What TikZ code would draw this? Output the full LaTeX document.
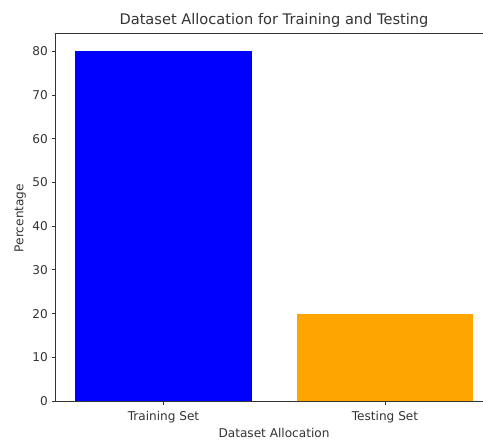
\documentclass[tikz,border=0pt]{standalone}
\usepackage{fontspec}
\setmainfont{DejaVu Sans}
\usetikzlibrary{positioning,calc}
\definecolor{barblue}{HTML}{0000FF}
\definecolor{barorange}{HTML}{FFA500}
\definecolor{axisgray}{HTML}{333333}

\begin{document}
\begin{tikzpicture}[
  x=1pt, y=1pt,
  spine/.style={draw=axisgray, line width=0.9pt},
  tick/.style={draw=axisgray, line width=0.9pt},
  ticklab/.style={font=\fontsize{12.1}{13}\selectfont, text=axisgray, inner sep=0pt},
  axlab/.style={font=\fontsize{12.1}{13}\selectfont, text=axisgray, inner sep=0pt},
  ttl/.style={font=\fontsize{14.6}{16}\selectfont, text=axisgray, inner sep=0pt}
]
\useasboundingbox (0,0) rectangle (483,440);

% bars
\fill[barblue] (75,39) rectangle (252,388.6);
\fill[barorange] (297,39) rectangle (473,126.4);

% axes (right spine lies outside the picture)
\coordinate (ll) at (55.5,39);
\coordinate (ul) at (55.5,407);
\draw[spine] (483,407) -- (ul) -- (ll) -- (483,39);

% y ticks
\foreach \v in {0,10,...,80}{
  \coordinate (yt\v) at (55.5,39+4.37*\v);
  \draw[tick] (yt\v) -- ++(-4,0);
  \node[ticklab, anchor=east] (ylab\v) at ($(yt\v)+(-7.5,0)$) {\v};
}

% x ticks
\coordinate (xt1) at (163.5,39);
\coordinate (xt2) at (385,39);
\draw[tick] (xt1) -- ++(0,-4);
\draw[tick] (xt2) -- ++(0,-4);
\node[ticklab, anchor=base] (xlab1) at (163.5,19) {Training Set};
\node[ticklab, anchor=base] (xlab2) at (385,19) {Testing Set};

% labels
\node[axlab, anchor=base] (xaxis) at (274,2) {Dataset Allocation};
\node[axlab, rotate=90, anchor=base] (yaxis) at (23.5,222) {Percentage};
\node[ttl, anchor=base] (title) at (274,415) {Dataset Allocation for Training and Testing};
\end{tikzpicture}
\end{document}
